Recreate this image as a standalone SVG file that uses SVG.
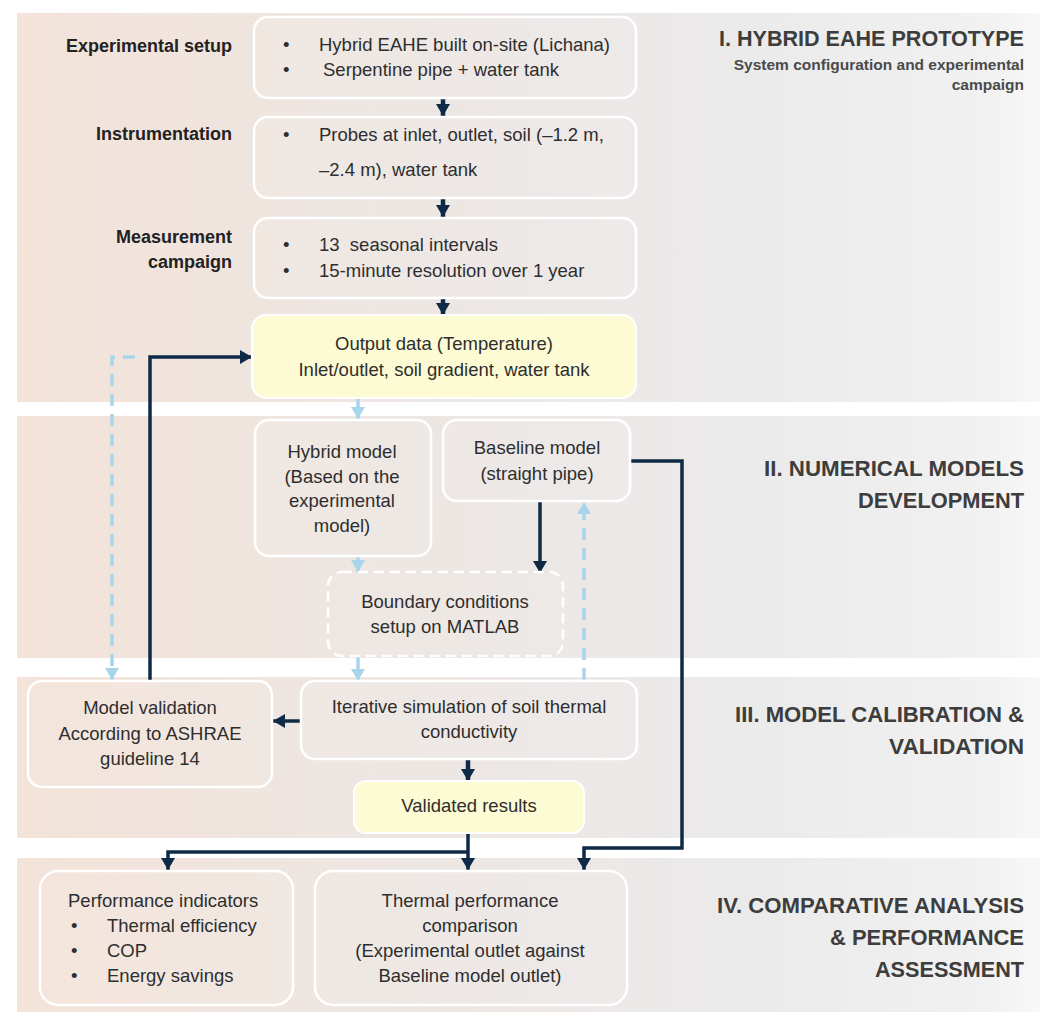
<svg xmlns="http://www.w3.org/2000/svg" width="1054" height="1016" viewBox="0 0 1054 1016">
<defs>
<linearGradient id="band" x1="0" y1="0" x2="1" y2="0">
<stop offset="0" stop-color="#f3e3d9"/>
<stop offset="0.35" stop-color="#ede6e2"/>
<stop offset="0.7" stop-color="#ebeaea"/>
<stop offset="0.95" stop-color="#f1f1f1"/>
<stop offset="1" stop-color="#f8f8f8"/>
</linearGradient>
<marker id="nav" viewBox="0 0 12 14" refX="12" refY="7" markerWidth="12" markerHeight="14" markerUnits="userSpaceOnUse" orient="auto">
<path d="M0,0 L12,7 L0,14 z" fill="#0f2a47"/>
</marker>
<marker id="blu" viewBox="0 0 12 14" refX="12" refY="7" markerWidth="12" markerHeight="14" markerUnits="userSpaceOnUse" orient="auto">
<path d="M0,0 L12,7 L0,14 z" fill="#a9d5ec"/>
</marker>
</defs>
<style>
.box{fill:#ffffff;fill-opacity:0.08;stroke:#ffffff;stroke-width:2.5}
.yel{fill:#fdfbd3;stroke:#ffffff;stroke-width:2}
.dash{fill:#ffffff;fill-opacity:0.06;stroke:#ffffff;stroke-width:2.5;stroke-dasharray:10 6}
.t{font-family:"Liberation Sans",Arial,sans-serif;font-size:18.5px;fill:#2e2e2e}
.c{text-anchor:middle}
.lb{font-family:"Liberation Sans",Arial,sans-serif;font-size:18px;font-weight:bold;fill:#222;text-anchor:end}
.ti{font-family:"Liberation Sans",Arial,sans-serif;font-size:22px;font-weight:bold;fill:#3d3d3d;text-anchor:end}
.st{font-family:"Liberation Sans",Arial,sans-serif;font-size:15.5px;font-weight:bold;fill:#4a4a4a;text-anchor:end}
.n{fill:none;stroke:#0f2a47;stroke-width:3.5}
.ns{fill:none;stroke:#0f2a47;stroke-width:4.5}
.b{fill:none;stroke:#a9d5ec;stroke-width:3.5}
.bd{fill:none;stroke:#a9d5ec;stroke-width:3.5;stroke-dasharray:12 8}
</style>
<rect width="1054" height="1016" fill="#ffffff"/>
<g id="bands">
<rect x="17" y="13" width="1023" height="389" fill="url(#band)"/>
<rect x="17" y="416" width="1023" height="242" fill="url(#band)"/>
<rect x="17" y="677" width="1023" height="161" fill="url(#band)"/>
<rect x="17" y="858" width="1023" height="154" fill="url(#band)"/>
</g>
<g id="section-titles">
<text class="ti" x="1024" y="46" textLength="305" lengthAdjust="spacingAndGlyphs">I. HYBRID EAHE PROTOTYPE</text>
<text class="st" x="1024" y="70">System configuration and experimental</text>
<text class="st" x="1024" y="90">campaign</text>
<text class="ti" x="1024" y="476" textLength="260" lengthAdjust="spacingAndGlyphs">II. NUMERICAL MODELS</text>
<text class="ti" x="1024" y="508" textLength="166" lengthAdjust="spacingAndGlyphs">DEVELOPMENT</text>
<text class="ti" x="1024" y="722" textLength="289" lengthAdjust="spacingAndGlyphs">III. MODEL CALIBRATION &amp;</text>
<text class="ti" x="1024" y="754" textLength="135" lengthAdjust="spacingAndGlyphs">VALIDATION</text>
<text class="ti" x="1024" y="913" textLength="307" lengthAdjust="spacingAndGlyphs">IV. COMPARATIVE ANALYSIS</text>
<text class="ti" x="1024" y="945" textLength="194" lengthAdjust="spacingAndGlyphs">&amp; PERFORMANCE</text>
<text class="ti" x="1024" y="977" textLength="149" lengthAdjust="spacingAndGlyphs">ASSESSMENT</text>
</g>
<g id="row-labels">
<text class="lb" x="232" y="52">Experimental setup</text>
<text class="lb" x="232" y="140">Instrumentation</text>
<text class="lb" x="232" y="243">Measurement</text>
<text class="lb" x="232" y="268">campaign</text>
</g>
<g id="connectors">
<path class="ns" d="M443,98 V116" marker-end="url(#nav)"/>
<path class="ns" d="M443,198 V217" marker-end="url(#nav)"/>
<path class="ns" d="M443,298 V315" marker-end="url(#nav)"/>
<path class="b" d="M358,398 V419" marker-end="url(#blu)"/>
<path class="b" d="M358,557 V572" marker-end="url(#blu)"/>
<path class="bd" d="M358,657 V681" marker-end="url(#blu)"/>
<path class="n" d="M540,501 V573" marker-end="url(#nav)"/>
<path class="bd" d="M584,680 V502" marker-end="url(#blu)"/>
<path class="n" d="M630,461 H682 V848 H584 V870" marker-end="url(#nav)"/>
<path class="n" d="M301,721 H273" marker-end="url(#nav)"/>
<path class="ns" d="M468,760 V781" marker-end="url(#nav)"/>
<path class="n" d="M468,834 V870" marker-end="url(#nav)"/>
<path class="n" d="M468,852 H168 V870" marker-end="url(#nav)"/>
<path class="n" d="M150,681 V357 H252" marker-end="url(#nav)"/>
<path class="bd" d="M135,357 H112 V680" marker-end="url(#blu)"/>
</g>
<g id="n-setup">
<rect class="box" x="254" y="17" width="382" height="81" rx="14"/>
<text class="t" x="283" y="51">•</text><text class="t" x="319" y="51">Hybrid EAHE built on-site (Lichana)</text>
<text class="t" x="283" y="76">•</text><text class="t" x="323" y="76">Serpentine pipe + water tank</text>
</g>
<g id="n-instrumentation">
<rect class="box" x="254" y="117" width="382" height="81" rx="14"/>
<text class="t" x="283" y="141">•</text><text class="t" x="319" y="141">Probes at inlet, outlet, soil (–1.2 m,</text>
<text class="t" x="319" y="176">–2.4 m), water tank</text>
</g>
<g id="n-measurement">
<rect class="box" x="254" y="218" width="382" height="80" rx="14"/>
<text class="t" x="283" y="251">•</text><text class="t" x="319" y="251" xml:space="preserve">13  seasonal intervals</text>
<text class="t" x="283" y="277">•</text><text class="t" x="319" y="277">15-minute resolution over 1 year</text>
</g>
<g id="n-output">
<rect class="yel" x="252" y="315" width="384" height="83" rx="14"/>
<text class="t c" x="444" y="350">Output data (Temperature)</text>
<text class="t c" x="444" y="376">Inlet/outlet, soil gradient, water tank</text>
</g>
<g id="n-hybrid">
<rect class="box" x="255" y="420" width="176" height="136" rx="14"/>
<text class="t c" x="342" y="458">Hybrid model</text>
<text class="t c" x="342" y="483">(Based on the</text>
<text class="t c" x="342" y="507">experimental</text>
<text class="t c" x="342" y="532">model)</text>
</g>
<g id="n-baseline">
<rect class="box" x="443" y="420" width="187" height="81" rx="14"/>
<text class="t c" x="537" y="454">Baseline model</text>
<text class="t c" x="537" y="480">(straight pipe)</text>
</g>
<g id="n-boundary">
<rect class="dash" x="328" y="572" width="235" height="84" rx="14"/>
<text class="t c" x="445" y="608">Boundary conditions</text>
<text class="t c" x="445" y="633">setup on MATLAB</text>
</g>
<g id="n-validation">
<rect class="box" x="28" y="681" width="244" height="106" rx="14"/>
<text class="t c" x="150" y="714">Model validation</text>
<text class="t c" x="150" y="740">According to ASHRAE</text>
<text class="t c" x="150" y="765">guideline 14</text>
</g>
<g id="n-iterative">
<rect class="box" x="301" y="681" width="336" height="78" rx="14"/>
<text class="t c" x="469" y="713">Iterative simulation of soil thermal</text>
<text class="t c" x="469" y="738">conductivity</text>
</g>
<g id="n-validated">
<rect class="yel" x="354" y="781" width="230" height="52" rx="12"/>
<text class="t c" x="469" y="812">Validated results</text>
</g>
<g id="n-indicators">
<rect class="box" x="40" y="871" width="253" height="134" rx="18"/>
<text class="t" x="68" y="907">Performance indicators</text>
<text class="t" x="71" y="932">•</text><text class="t" x="107" y="932">Thermal efficiency</text>
<text class="t" x="71" y="957">•</text><text class="t" x="107" y="957">COP</text>
<text class="t" x="71" y="982">•</text><text class="t" x="107" y="982">Energy savings</text>
</g>
<g id="n-comparison">
<rect class="box" x="315" y="871" width="312" height="134" rx="18"/>
<text class="t c" x="470" y="907">Thermal performance</text>
<text class="t c" x="470" y="932">comparison</text>
<text class="t c" x="470" y="957">(Experimental outlet against</text>
<text class="t c" x="470" y="982">Baseline model outlet)</text>
</g>
</svg>
